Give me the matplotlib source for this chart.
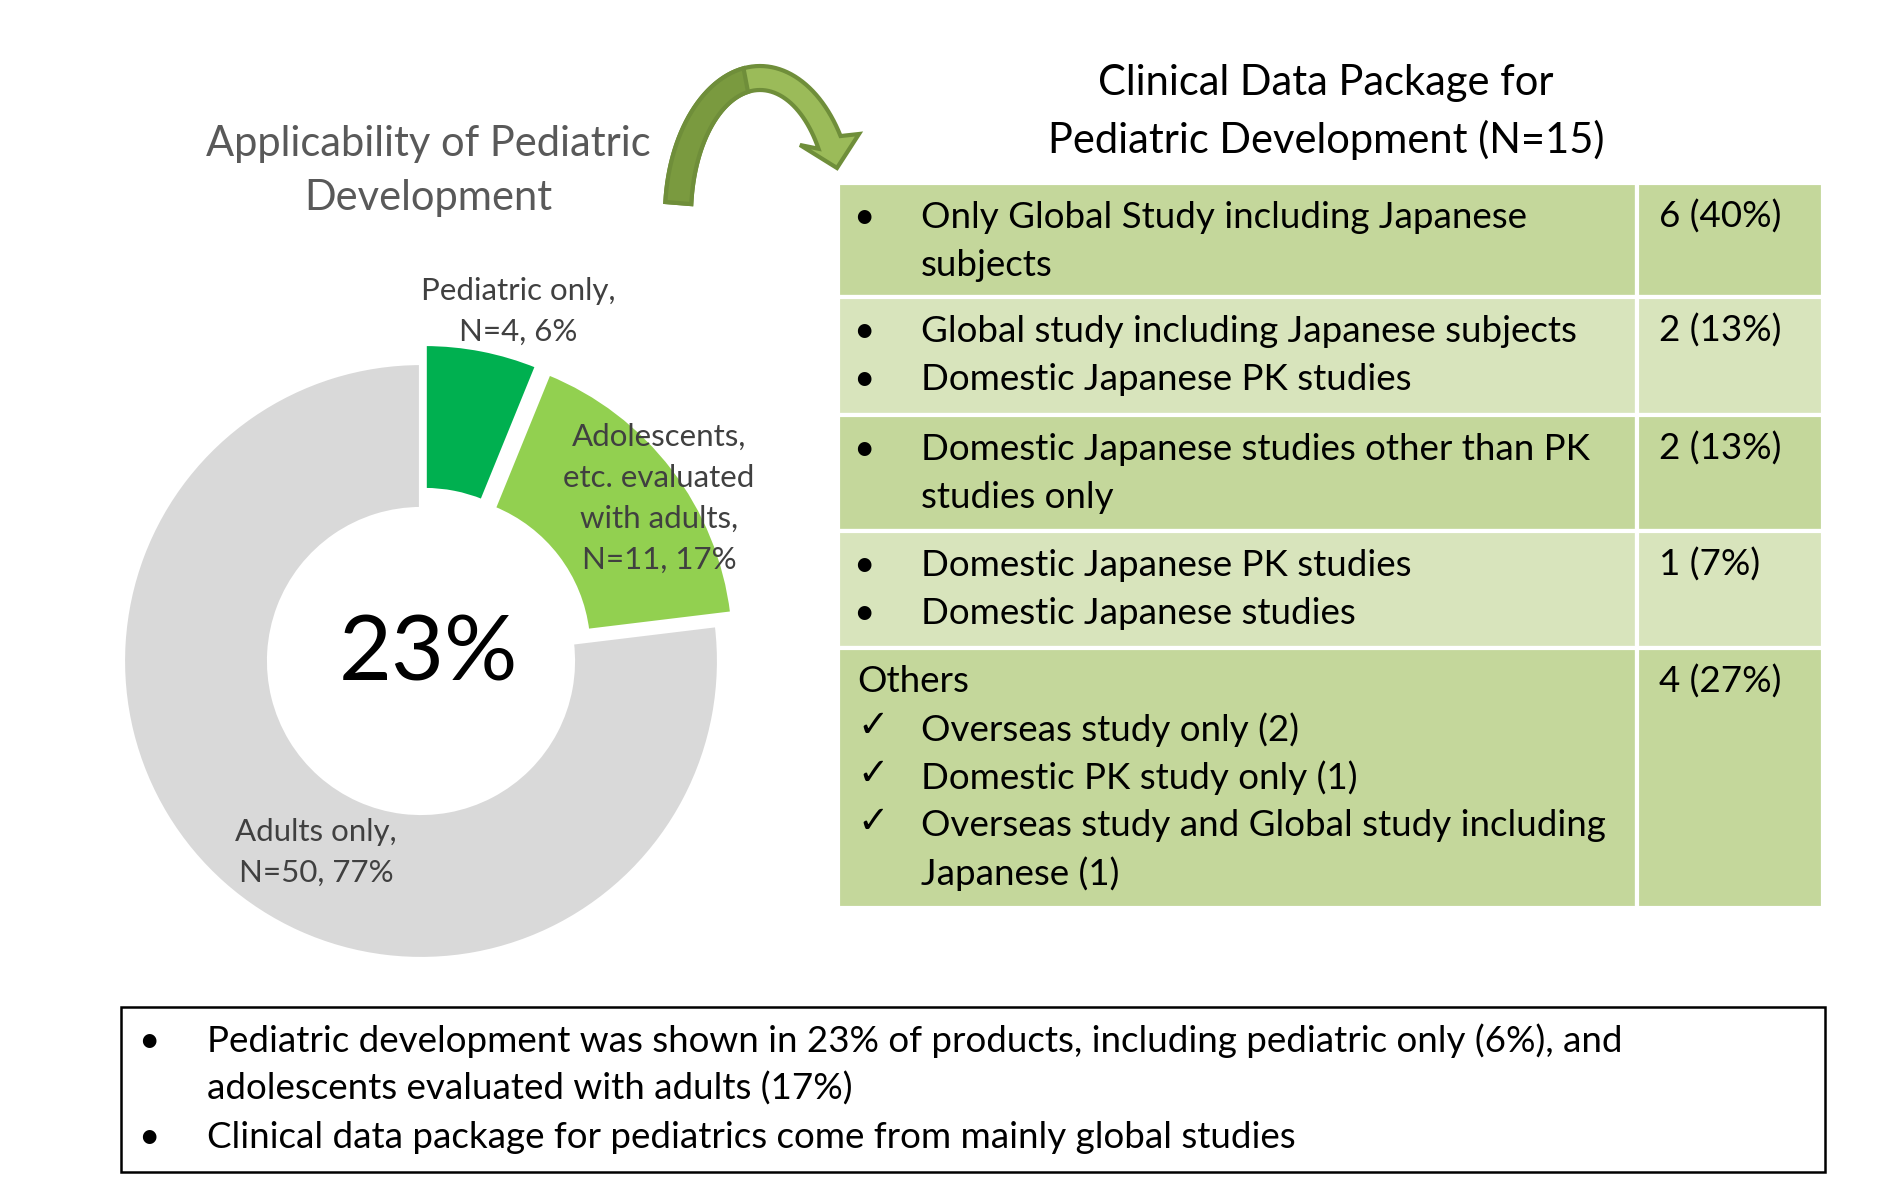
import numpy as np
import matplotlib
matplotlib.use("Agg")
import matplotlib.pyplot as plt
from matplotlib.patches import Rectangle, Polygon

plt.rcParams['font.family'] = ['Lato', 'DejaVu Sans']

# donut data
seg_labels = ['Pediatric only,\nN=4, 6%',
              'Adolescents,\netc. evaluated\nwith adults,\nN=11, 17%',
              'Adults only,\nN=50, 77%']
seg_counts = [4, 11, 50]
seg_colors = ['#00B050', '#92D050', '#D9D9D9']
center_text = '23%'

# table data
row_marks = [['•', ''], ['•', '•'], ['•', ''], ['•', '•'], ['', '✓', '✓', '✓', '']]
row_lines = [['Only Global Study including Japanese', 'subjects'],
             ['Global study including Japanese subjects', 'Domestic Japanese PK studies'],
             ['Domestic Japanese studies other than PK', 'studies only'],
             ['Domestic Japanese PK studies', 'Domestic Japanese studies'],
             ['Others', 'Overseas study only (2)', 'Domestic PK study only (1)',
              'Overseas study and Global study including', 'Japanese (1)']]
row_values = ['6 (40%)', '2 (13%)', '2 (13%)', '1 (7%)', '4 (27%)']
row_colors = ['#C4D79B', '#D8E4BC', '#C4D79B', '#D8E4BC', '#C4D79B']

notes = [['Pediatric development was shown in 23% of products, including pediatric only (6%), and',
          'adolescents evaluated with adults (17%)'],
         ['Clinical data package for pediatrics come from mainly global studies']]

W, H = 1885, 1193
fs_body = 26.5
fig = plt.figure(figsize=(W / 100, H / 100), dpi=100)

# background axes in pixel coordinates
ax = fig.add_axes([0, 0, 1, 1], zorder=0)
ax.set_xlim(0, W)
ax.set_ylim(H, 0)
ax.axis('off')

# titles
ax.text(428, 171, 'Applicability of Pediatric\nDevelopment', ha='center', va='center',
        fontsize=30, color='#595959', linespacing=1.52)
ax.text(1326, 112, 'Clinical Data Package for\nPediatric Development (N=15)', ha='center',
        va='center', fontsize=30, color='black', linespacing=1.52)

# curved arrow
cx, cy = 760, 215
t_out = np.radians(np.linspace(175, 32, 60))
t_in = t_out[::-1]
outer = np.column_stack([cx + 95 * np.cos(t_out), cy - 149 * np.sin(t_out)])
inner = np.column_stack([cx + 69 * np.cos(t_in), cy - 125 * np.sin(t_in)])
head = np.array([[859, 134], [837, 168], [800, 145]])
ax.add_patch(Polygon(np.vstack([outer, head, inner]), closed=True, facecolor='#9BBB59',
                     edgecolor='#6F8E3A', lw=3))
t2 = np.radians(np.linspace(175, 100, 30))
o2 = np.column_stack([cx + 95 * np.cos(t2), cy - 149 * np.sin(t2)])
i2 = np.column_stack([cx + 69 * np.cos(t2[::-1]), cy - 125 * np.sin(t2[::-1])])
ax.add_patch(Polygon(np.vstack([o2, i2]), closed=True, facecolor='#7A9A3F',
                     edgecolor='#6F8E3A', lw=3))

# table
x0, xdiv, x1 = 838, 1637, 1823
row_edges = [183, 297, 415, 531, 648, 908]
line_gap = 48
for i in range(len(row_lines)):
    top, bot = row_edges[i], row_edges[i + 1]
    for left, right in [(x0, xdiv), (xdiv, x1)]:
        ax.add_patch(Rectangle((left, top), right - left, bot - top,
                               facecolor=row_colors[i], edgecolor='white', lw=3))
    y = top + 34
    for mark, line in zip(row_marks[i], row_lines[i]):
        if line == 'Others':
            ax.text(857, y, line, va='center', ha='left', fontsize=fs_body)
        else:
            if mark == '•':
                ax.text(864, y, mark, va='center', ha='center', fontsize=fs_body)
            elif mark:
                ax.text(873, y - 4, mark, va='center', ha='center', fontsize=27)
            ax.text(921, y, line, va='center', ha='left', fontsize=fs_body)
        y += line_gap
    ax.text(1659, top + 34, row_values[i], va='center', ha='left', fontsize=fs_body)

# bottom box
ax.add_patch(Rectangle((121, 1007), 1825 - 121, 1172 - 1007, facecolor='white',
                       edgecolor='black', lw=1.8))
ny = 1041
for note in notes:
    ax.text(149, ny, '•', va='center', ha='center', fontsize=fs_body)
    for ln in note:
        ax.text(207, ny, ln, va='center', ha='left', fontsize=fs_body)
        ny += 48

# donut chart
R = 298
lim = 1.2
size = R * 2 * lim
pax = fig.add_axes([(421 - size / 2) / W, (H - 661 - size / 2) / H, size / W, size / H],
                   zorder=1)
pax.patch.set_alpha(0)
pax.pie(seg_counts, colors=seg_colors, startangle=90, counterclock=False,
        explode=[0.065, 0.065, 0], radius=1,
        wedgeprops=dict(width=0.49, edgecolor='white', linewidth=3))
pax.set_xlim(-lim, lim)
pax.set_ylim(-lim, lim)
pax.set_aspect('equal')
pax.text(0.025, 0.02, center_text, ha='center', va='center', fontsize=66, color='black')

# segment labels, drawn above the pie
lab_ax = fig.add_axes([0, 0, 1, 1], zorder=2)
lab_ax.set_xlim(0, W)
lab_ax.set_ylim(H, 0)
lab_ax.axis('off')
label_pos = [(518, 311), (659, 498), (316, 852)]
for lab, (lx, ly) in zip(seg_labels, label_pos):
    lab_ax.text(lx, ly, lab, ha='center', va='center', fontsize=22.5, color='#404040',
                linespacing=1.56)

fig.savefig('out.png', dpi=100)
